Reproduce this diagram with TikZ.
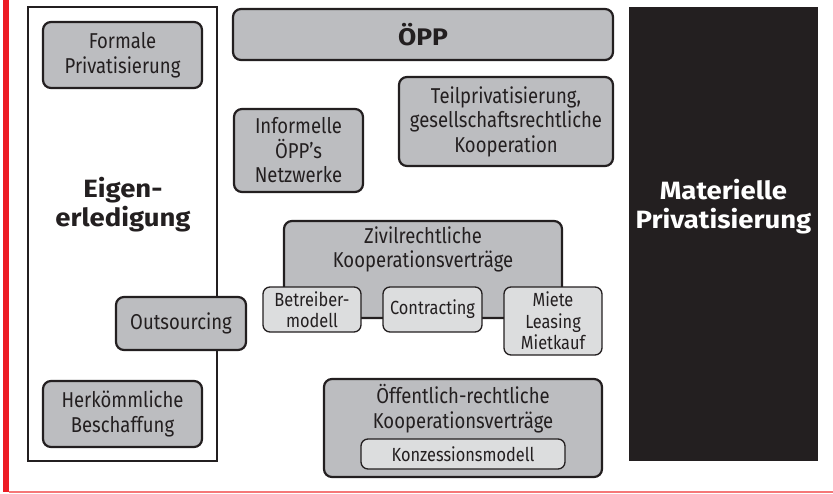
\documentclass[tikz,border=0pt]{standalone}
\usepackage{fontspec}
\setmainfont{Fira Sans}[FakeStretch=0.86, BoldFeatures={FakeStretch=1.1}]
\usetikzlibrary{positioning, shapes}
\definecolor{ink}{RGB}{35,31,32}
\definecolor{boxgray}{RGB}{188,189,192}
\definecolor{subgray}{RGB}{220,221,222}
\definecolor{marker}{RGB}{237,28,36}
\definecolor{footline}{RGB}{245,120,120}

\begin{document}
\begin{tikzpicture}[x=1pt, y=-1pt]
\tikzstyle{block} = [rectangle, draw=ink, fill=boxgray, text=ink, line width=2.2pt,
    rounded corners=8pt, align=center, inner sep=0pt,
    font=\fontsize{21.5}{24.5}\selectfont]
\tikzstyle{subblock} = [block, fill=subgray, line width=1.3pt, rounded corners=7pt,
    font=\fontsize{19}{21.5}\selectfont]
\tikzstyle{heading} = [text=ink, align=center, font=\bfseries\fontsize{25}{29}\selectfont]
\useasboundingbox (0,0) rectangle (833,493);
    % frame lines
    \fill[marker] (3,0) rectangle (9,492);
    \fill[footline] (9,490.5) rectangle (833,493);

    % left column
    \node [draw=ink, line width=2pt, minimum width=189pt, minimum height=454pt, inner sep=0pt] (eigen) at (122.5,234) {};
    \node [heading] (eigenText) at (123,205) {Eigen-\\erledigung};
    \node [block, minimum width=159pt, minimum height=66pt] (formal) at (122.5,55) {Formale\\Privatisierung};
    \node [block, minimum width=159pt, minimum height=66pt] (herk) at (122.5,414) {Herkömmliche\\Beschaffung};
    \node [block, minimum width=130pt, minimum height=53pt] (outsourcing) at (181,323.5) {Outsourcing};

    % middle column
    \node [block, minimum width=380pt, minimum height=51pt, font=\bfseries\fontsize{24}{28}\selectfont] (oepp) at (423,34.5) {ÖPP};
    \node [block, minimum width=129pt, minimum height=83pt] (informell) at (298.5,150.5) {Informelle\\ÖPP’s\\Netzwerke};
    \node [block, minimum width=214pt, minimum height=89pt] (teil) at (506,121.5) {Teilprivatisierung,\\gesellschaftsrechtliche\\Kooperation};

    \node [block, minimum width=278pt, minimum height=97pt] (zivil) at (423,269.5) {};
    \node [text=ink, align=center, font=\fontsize{21.5}{24.5}\selectfont, below=3pt of zivil.north] (zivilText) {Zivilrechtliche\\Kooperationsverträge};
    \node [subblock, minimum width=98pt, minimum height=45pt] (betreiber) at (312,309.5) {Betreiber-\\modell};
    \node [subblock, minimum width=99pt, minimum height=45pt] (contracting) at (432.5,309.5) {Contracting};
    \node [subblock, minimum width=98pt, minimum height=68pt] (miete) at (553,321) {Miete\\Leasing\\Mietkauf};

    \node [block, minimum width=278pt, minimum height=98pt] (oeff) at (463,428) {};
    \node [text=ink, align=center, font=\fontsize{21.5}{24.5}\selectfont, below=3pt of oeff.north] (oeffText) {Öffentlich-rechtliche\\Kooperationsverträge};
    \node [subblock, minimum width=204pt, minimum height=30pt] (konz) at (463,454) {Konzessionsmodell};

    % right column
    \node [fill=ink, minimum width=189pt, minimum height=454pt, inner sep=0pt] (materiell) at (723.5,234) {};
    \node [heading, text=white] (materiellText) at (723.5,207) {Materielle\\Privatisierung};
\end{tikzpicture}
\end{document}
